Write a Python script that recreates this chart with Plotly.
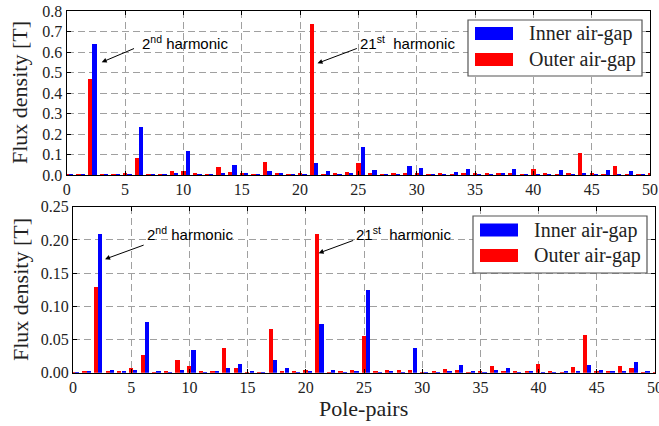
import plotly.graph_objects as go

# Harmonic orders (pole-pairs) 0..50
pole_pairs = list(range(51))

# Upper panel: flux density spectra [T]
upper_inner = [0.003, 0.003, 0.64, 0.003, 0.003, 0.004, 0.235, 0.003, 0.003, 0.008,
               0.118, 0.004, 0.003, 0.008, 0.05, 0.008, 0.003, 0.02, 0.012, 0.003,
               0.003, 0.057, 0.018, 0.003, 0.005, 0.135, 0.022, 0.003, 0.003, 0.045,
               0.033, 0.003, 0.003, 0.015, 0.028, 0.004, 0.003, 0.012, 0.027, 0.003,
               0.004, 0.003, 0.025, 0.004, 0.01, 0.003, 0.022, 0.004, 0.018, 0.003, 0.003]
upper_outer = [0.003, 0.003, 0.47, 0.003, 0.003, 0.008, 0.085, 0.003, 0.003, 0.018,
               0.02, 0.008, 0.003, 0.037, 0.015, 0.005, 0.003, 0.063, 0.005, 0.003,
               0.008, 0.735, 0.004, 0.005, 0.017, 0.06, 0.01, 0.004, 0.008, 0.008,
               0.005, 0.003, 0.005, 0.004, 0.005, 0.005, 0.008, 0.008, 0.01, 0.003,
               0.028, 0.008, 0.004, 0.012, 0.107, 0.005, 0.004, 0.043, 0.004, 0.003, 0.01]

# Lower panel: flux density spectra [T]
lower_inner = [0.001, 0.003, 0.21, 0.004, 0.002, 0.004, 0.077, 0.002, 0.001, 0.005,
               0.035, 0.001, 0.003, 0.008, 0.013, 0.003, 0.001, 0.019, 0.007, 0.001,
               0.002, 0.074, 0.004, 0.001, 0.003, 0.125, 0.001, 0.002, 0.001, 0.038,
               0.001, 0.001, 0.002, 0.012, 0.002, 0.001, 0.004, 0.007, 0.001, 0.002,
               0.001, 0.001, 0.003, 0.002, 0.012, 0.004, 0.002, 0.003, 0.017, 0.002, 0.001]
lower_outer = [0.001, 0.003, 0.13, 0.003, 0.003, 0.008, 0.027, 0.001, 0.003, 0.02,
               0.01, 0.003, 0.002, 0.038, 0.007, 0.001, 0.001, 0.066, 0.003, 0.003,
               0.005, 0.21, 0.001, 0.002, 0.004, 0.055, 0.003, 0.005, 0.005, 0.005,
               0.001, 0.002, 0.006, 0.005, 0.001, 0.002, 0.01, 0.003, 0.002, 0.002,
               0.013, 0.003, 0.001, 0.009, 0.057, 0.002, 0.003, 0.01, 0.007, 0.001, 0.001]

series_names = ["Inner air-gap", "Outer air-gap"]
BLUE = "#0000ff"
RED = "#ff0000"

W, H = 659, 426
SERIF = "Liberation Serif, Times New Roman, serif"
SANS = "Liberation Sans, Arial, sans-serif"

fig = go.Figure()

panels = [
    ("x", "y", upper_inner, upper_outer),
    ("x2", "y2", lower_inner, lower_outer),
]
for xa, ya, inner, outer in panels:
    fig.add_trace(go.Bar(x=pole_pairs, y=outer, name=series_names[1], marker_color=RED,
                         marker_line_width=0, width=0.36, offset=-0.2,
                         xaxis=xa, yaxis=ya, showlegend=False))
    fig.add_trace(go.Bar(x=pole_pairs, y=inner, name=series_names[0], marker_color=BLUE,
                         marker_line_width=0, width=0.36, offset=0.17,
                         xaxis=xa, yaxis=ya, showlegend=False))

axis_common = dict(
    showgrid=True, gridcolor="#a0a0a0", gridwidth=1.1, griddash="7px,4px",
    showline=True, linecolor="black", linewidth=1.3, mirror="ticks",
    ticks="inside", ticklen=4, tickcolor="black",
    tickfont=dict(family=SERIF, size=16, color="#222"),
    ticklabeloverflow="allow",
    zeroline=False, automargin=False,
)

fig.update_layout(
    width=W, height=H,
    margin=dict(l=0, r=0, t=0, b=0, pad=0, autoexpand=False),
    paper_bgcolor="white", plot_bgcolor="white",
    barmode="overlay", bargap=0,
    showlegend=False,
    xaxis=dict(domain=[66.7 / W, 650 / W], range=[0, 50], dtick=5, tick0=0,
               anchor="y", **axis_common),
    yaxis=dict(domain=[1 - 175 / H, 1 - 11 / H], range=[0, 0.8], dtick=0.1,
               tickformat=".1f", anchor="x", **axis_common),
    xaxis2=dict(domain=[73 / W, 655 / W], range=[0, 50], dtick=5, tick0=0,
                anchor="y2", **axis_common),
    yaxis2=dict(domain=[1 - 372.7 / H, 1 - 206.7 / H], range=[0, 0.25], dtick=0.05,
                tickformat=".2f", anchor="x2", **axis_common),
)

annotations = []

# Axis titles
for yc in (93, 290):
    annotations.append(dict(text="Flux density [T]", xref="paper", yref="paper",
                            x=20 / W, y=1 - yc / H, xanchor="center", yanchor="middle",
                            showarrow=False, textangle=-90,
                            font=dict(family=SERIF, size=22, color="#222")))
annotations.append(dict(text="Pole-pairs", xref="paper", yref="paper",
                        x=363 / W, y=1 - 408 / H, xanchor="center", yanchor="middle",
                        showarrow=False,
                        font=dict(family=SERIF, size=22, color="#222")))

# Harmonic call-outs: (xref, yref, text, text_x, text_y, head_x, head_y, tail_x, tail_y)
callouts = [
    ("x", "y", "2<sup>nd</sup> harmonic", 10.1, 0.645, 3.0, 0.55, 5.9, 0.62),
    ("x", "y", "21<sup>st</sup>  harmonic", 29.2, 0.645, 21.5, 0.545, 25.0, 0.62),
    ("x2", "y2", "2<sup>nd</sup> harmonic", 10.05, 0.209, 2.75, 0.171, 6.2, 0.193),
    ("x2", "y2", "21<sup>st</sup>  harmonic", 28.4, 0.209, 21.1, 0.18, 24.2, 0.20),
]
for xr, yr, txt, tx, ty, hx, hy, ax_, ay_ in callouts:
    annotations.append(dict(text=txt, xref=xr, yref=yr, x=tx, y=ty, showarrow=False,
                            xanchor="center", yanchor="middle",
                            font=dict(family=SANS, size=15, color="black")))
    annotations.append(dict(text="", xref=xr, yref=yr, x=hx, y=hy,
                            axref=xr, ayref=yr, ax=ax_, ay=ay_, showarrow=True,
                            arrowhead=2, arrowsize=1, arrowwidth=1, arrowcolor="black"))

# Legends drawn as framed boxes with wide colour swatches
shapes = []
legend_boxes = [
    # (box x0, y0, x1, y1, swatch x0, x1, row centres, text x)
    (468, 20, 642, 76, 475, 513, (33.5, 59.5), 527),
    (473, 216, 647, 273, 480, 518, (230, 255.5), 532),
]
for bx0, by0, bx1, by1, sx0, sx1, rows, tx in legend_boxes:
    shapes.append(dict(type="rect", xref="paper", yref="paper",
                       x0=bx0 / W, x1=bx1 / W, y0=1 - by1 / H, y1=1 - by0 / H,
                       line=dict(color="#555", width=1.2), fillcolor="white", layer="above"))
    for (name, col), yc in zip([(series_names[0], BLUE), (series_names[1], RED)], rows):
        shapes.append(dict(type="rect", xref="paper", yref="paper",
                           x0=sx0 / W, x1=sx1 / W, y0=1 - (yc + 6.5) / H, y1=1 - (yc - 6.5) / H,
                           line=dict(width=0), fillcolor=col, layer="above"))
        annotations.append(dict(text=name, xref="paper", yref="paper", x=tx / W, y=1 - yc / H,
                                xanchor="left", yanchor="middle", showarrow=False,
                                font=dict(family=SERIF, size=20, color="#222")))

fig.update_layout(annotations=annotations, shapes=shapes)

fig.write_html("out.html")
